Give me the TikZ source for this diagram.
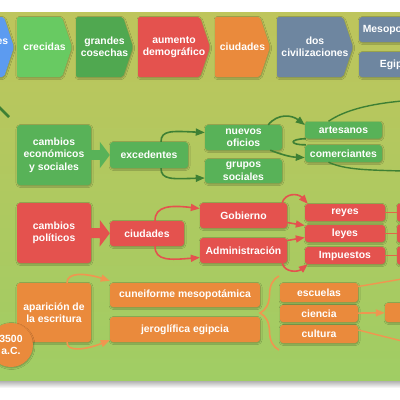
\documentclass[tikz,border=0pt]{standalone}
\usepackage{fontspec}
\setmainfont{Liberation Sans}
\usetikzlibrary{arrows.meta,shadows.blur,decorations.pathreplacing}
\definecolor{fondoA}{RGB}{190,197,92}
\definecolor{fondoB}{RGB}{160,205,100}
\definecolor{azul}{RGB}{92,155,240}
\definecolor{verdeA}{RGB}{104,202,98}
\definecolor{verdeB}{RGB}{80,168,80}
\definecolor{verdeC}{RGB}{88,178,88}
\definecolor{verdeD}{RGB}{62,128,52}
\definecolor{rojo}{RGB}{228,82,78}
\definecolor{rojoB}{RGB}{228,100,72}
\definecolor{naranja}{RGB}{234,138,60}
\definecolor{naranjaB}{RGB}{240,150,80}
\definecolor{pizarra}{RGB}{110,134,160}
\begin{document}
\begin{tikzpicture}[x=1pt,y=-1pt,
  font=\fontsize{10.4}{12.5}\selectfont\bfseries,
  sombra/.style={blur shadow={shadow xshift=0.5pt,shadow yshift=-1pt,shadow blur radius=1.5pt,shadow opacity=30}},
  caja/.style={sombra,rounded corners=3pt,text=white,align=center,inner sep=1pt},
  flecha/.style={line width=1.6pt,-{Triangle[length=9pt,width=7pt]}},
  gorda/.style={line width=10pt,-{Triangle[length=10pt,width=26pt]}}]
  \useasboundingbox (0,0) rectangle (400,400);
  \clip (0,0) rectangle (400,400);
  % fondo
  \fill[white] (0,0) rectangle (400,400);
  \shade[top color=fondoA,bottom color=fondoB] (-1,12) rectangle (401,381);
  \shade[top color=black!30,bottom color=white] (-1,381) rectangle (401,388);

  %--- fila superior ---
  \foreach \xa/\xb/\col/\nm/\txt in {-38/14/azul/rios/{grandes\\ríos},
      17/72/verdeA/crec/crecidas, 76/133/verdeB/cose/{grandes\\cosechas},
      138/210/rojo/demo/{aumento\\demográfico}, 215/270/naranja/ciuA/ciudades,
      277/353/pizarra/civi/{dos\\civilizaciones}}{
    \fill[\col,sombra,rounded corners=2pt] (\xa,17) -- (\xb-10,17) -- (\xb,47) -- (\xb-10,77) -- (\xa,77) -- cycle;
    \node[text=white,align=center,inner sep=1pt] (\nm) at ({(\xa+\xb)/2},47) {\txt};
  }
  \node[caja,fill=pizarra,minimum width=74pt,minimum height=25pt] (meso) at (396,29.5) {Mesopotamia};
  \node[caja,fill=pizarra,minimum width=74pt,minimum height=25pt] (egip) at (396,64.5) {Egipto};

  %--- cambios economicos ---
  \coordinate (stubA) at (-4,104);
  \coordinate (stubB) at (9,117);
  \draw[verdeD,line width=2.5pt] (stubA) -- (stubB);
  \node[caja,fill=verdeC,minimum width=74pt,minimum height=60pt] (ceco) at (54,155) {cambios\\económicos\\y sociales};
  \node[caja,fill=verdeC,minimum width=78pt,minimum height=26pt] (exced) at (149,155) {excedentes};
  \node[caja,fill=verdeC,minimum width=77pt,minimum height=25pt] (nuevos) at (243.5,137.5) {nuevos\\oficios};
  \node[caja,fill=verdeC,minimum width=77pt,minimum height=24pt] (grupos) at (243.5,171) {grupos\\sociales};
  \node[caja,fill=verdeC,minimum width=77pt,minimum height=17pt] (artes) at (343.5,130) {artesanos};
  \node[caja,fill=verdeC,minimum width=77pt,minimum height=17pt] (comer) at (343.5,153.5) {comerciantes};
  \draw[gorda,verdeC] (ceco) -- (exced);
  \draw[flecha,verdeD] ([xshift=12pt]exced.north) .. controls (161,130) and (172,131) .. ([yshift=5pt]nuevos.west);
  \draw[flecha,verdeD] ([xshift=12pt]exced.south) .. controls (161,180) and (172,179) .. ([yshift=-7pt]grupos.west);
  \draw[flecha,verdeD] ([xshift=-14pt]nuevos.north east) .. controls (278,113) and (292,115) .. ([yshift=5pt]artes.west);
  \draw[flecha,verdeD] ([xshift=-12pt]nuevos.south east) .. controls (280,154) and (290,157) .. ([yshift=-4pt]comer.west);
  \draw[verdeD,line width=1.6pt] ([xshift=1pt]artes.south west) .. controls (289,139) and (289,145) .. ([xshift=1pt]comer.north west);
  \coordinate (artfin) at (402,101);
  \coordinate (comfin) at (402,171);
  \draw[verdeD,line width=1.4pt] ([xshift=-15pt]artes.north) .. controls (345,110) and (370,104) .. (artfin);
  \draw[verdeD,line width=1.4pt] ([xshift=-15pt]comer.south) .. controls (345,170) and (370,170) .. (comfin);

  %--- cambios politicos ---
  \node[caja,fill=rojo,minimum width=74pt,minimum height=60pt] (cpol) at (54,233) {cambios\\políticos};
  \node[caja,fill=rojo,minimum width=74pt,minimum height=25pt] (ciud) at (147,233.5) {ciudades};
  \node[caja,fill=rojo,minimum width=87pt,minimum height=25pt] (gob) at (243.5,215.5) {Gobierno};
  \node[caja,fill=rojo,minimum width=87pt,minimum height=25pt] (adm) at (243.5,250.5) {Administración};
  \foreach \nm/\yy/\txt in {reyes/212.5/reyes, leyes/233.5/leyes, impu/255.5/Impuestos}{
    \node[caja,fill=rojo,minimum width=80pt,minimum height=17pt] (\nm) at (345,\yy) {\txt};
    \node[caja,fill=rojo,minimum width=44pt,minimum height=18pt] (\nm-b) at (419,\yy) {};
    \draw[rojoB,line width=1.4pt] (\nm) -- (\nm-b);
  }
  \draw[gorda,rojo] (cpol) -- (ciud);
  \draw[flecha,rojo] ([xshift=8pt]ciud.north) .. controls (155,206) and (170,205) .. ([yshift=7pt]gob.west);
  \draw[flecha,rojo] ([xshift=8pt]ciud.south) .. controls (155,261) and (170,260) .. ([yshift=-7pt]adm.west);
  \draw[flecha,rojo] ([xshift=-5pt]gob.north east) .. controls (285,193) and (298,193) .. ([xshift=3pt]reyes.north west);
  \draw[flecha,rojo] ([yshift=-7pt]gob.east) -- ([yshift=8pt]leyes.west);
  \draw[flecha,rojo] ([yshift=10pt]adm.east) -- ([yshift=-4pt]leyes.west);
  \draw[flecha,rojo] ([xshift=-5pt]adm.south east) .. controls (285,273) and (298,272) .. ([xshift=3pt]impu.south west);

  %--- escritura ---
  \node[caja,fill=naranja,minimum width=74pt,minimum height=59pt] (escr) at (54,312.5) {aparición de\\la escritura};
  \node[caja,circle,fill=naranja,minimum size=44pt] (fecha) at (11,345) {3500\\a.C.};
  \node[caja,fill=naranja,minimum width=150pt,minimum height=24pt] (cune) at (185,295) {cuneiforme mesopotámica};
  \node[caja,fill=naranja,minimum width=150pt,minimum height=25pt] (jero) at (185,329.5) {jeroglífica egipcia};
  \node[caja,fill=naranja,minimum width=78pt,minimum height=19pt] (escu) at (319,292.5) {escuelas};
  \node[caja,fill=naranja,minimum width=78pt,minimum height=17pt] (cien) at (319,313.5) {ciencia};
  \node[caja,fill=naranja,minimum width=78pt,minimum height=18pt] (cult) at (319,334) {cultura};
  \node[caja,fill=naranja,minimum width=54pt,minimum height=19pt] (ideas) at (412,312.5) {};
  \draw[flecha,naranjaB] ([xshift=13pt]escr.north) .. controls (67,272) and (85,273) .. ([yshift=2pt]cune.north west);
  \draw[flecha,naranjaB] ([xshift=13pt]escr.south) .. controls (67,352) and (85,350) .. ([yshift=2pt]jero.south west);
  \draw[naranjaB,line width=1.6pt,decorate,decoration={brace,amplitude=19pt}] (279,350) -- (279,276);
  \draw[flecha,naranjaB] (cien) -- (ideas);
  \coordinate (escfin) at (402,279);
  \coordinate (culfin) at (402,341);
  \draw[naranjaB,line width=1.4pt] ([yshift=6pt]escu.east) -- (escfin);
  \draw[naranjaB,line width=1.4pt] ([yshift=4pt]cult.east) -- (culfin);
\end{tikzpicture}
\end{document}
